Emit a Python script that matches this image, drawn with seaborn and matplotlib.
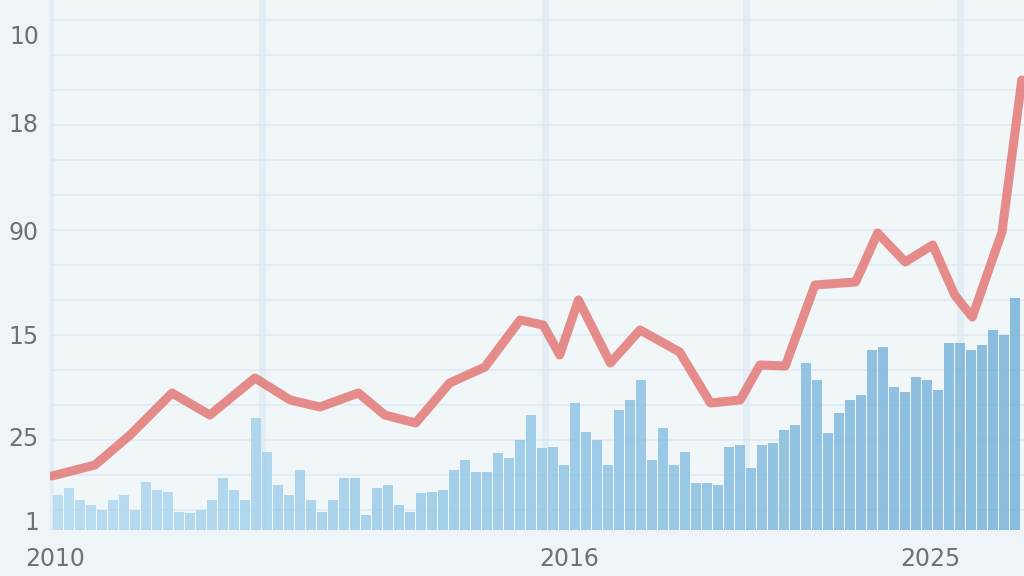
import numpy as np
import matplotlib
matplotlib.use('Agg')
import matplotlib.pyplot as plt
import seaborn as sns

# Bar heights (one bar per period)
BAR_VALUES = [35, 42, 30, 25, 20, 30, 35, 20, 48, 40, 38, 18, 17, 20, 30, 52,
              40, 30, 112, 78, 45, 35, 60, 30, 18, 30, 52, 52, 15, 42, 45, 25,
              18, 37, 38, 40, 60, 70, 58, 58, 77, 72, 90, 115, 82, 83, 65, 127,
              98, 90, 65, 120, 130, 150, 70, 102, 65, 78, 47, 47, 45, 83, 85, 62,
              85, 87, 100, 105, 167, 150, 97, 117, 130, 135, 180, 183, 143, 138,
              153, 150, 140, 187, 187, 180, 185, 200, 195, 232]

# Red trend line (period, value)
LINE_X = [-0.55, 3.36, 6.55, 10.36, 13.8, 17.9, 21.1, 23.8, 27.3, 29.7, 32.5,
          35.6, 38.8, 42.0, 44.1, 45.6, 47.3, 50.2, 52.9, 56.5, 59.3, 62.0,
          63.8, 66.1, 68.8, 72.5, 74.5, 77.0, 79.5, 81.5, 83.1, 85.8, 87.6]
LINE_Y = [54, 65, 95, 137, 115, 152, 130, 123, 137, 115, 107,
          147, 163, 210, 205, 175, 230, 167, 200, 178, 127, 130,
          165, 164, 245, 248, 297, 268, 285, 235, 213, 298, 450]

Y_TICKS = [495, 408, 300, 195, 93, 10]
Y_LABELS = ['10', '18', '90', '15', '25', '1']
X_TICKS = [-0.3, 46.5, 79.3]
X_LABELS = ['2010', '2016', '2025']
BANDS = [-0.7, 18.5, 44.3, 62.5, 82.0]

sns.set_style('white')
plt.rcParams['font.family'] = ['DejaVu Sans']

fig = plt.figure(figsize=(10.24, 5.76), dpi=100)
fig.patch.set_facecolor('#eef4f8')
ax = fig.add_axes([50 / 1024, 46 / 576, 974 / 1024, 530 / 576])
ax.set_facecolor('#f1f6f9')

# faint grid
for y in np.arange(20, 530, 35):
    ax.axhline(y, color='#e0eaf1', lw=1.2, zorder=0)
for x in BANDS:
    ax.axvline(x, color='#dae8f2', lw=5, alpha=0.6, zorder=0)

idx = np.arange(len(BAR_VALUES))
sns.barplot(x=idx, y=BAR_VALUES, native_scale=True, width=0.9,
            color='#8cc3e3', ax=ax, zorder=2)
cols = sns.blend_palette(['#b0d9f0', '#92c6e5', '#78b2da'], len(BAR_VALUES))
for patch, c in zip(ax.patches, cols):
    patch.set_facecolor(c)
    patch.set_edgecolor('none')
    patch.set_alpha(0.85)

sns.lineplot(x=LINE_X, y=LINE_Y, color='#e2716f', lw=6.5, alpha=0.8,
             ax=ax, zorder=3, sort=False)
for line in ax.lines:
    line.set_solid_capstyle('round')
    line.set_solid_joinstyle('round')

ax.set_xlim(-0.73, 87.8)
ax.set_ylim(0, 530)
ax.set_yticks(Y_TICKS)
ax.set_yticklabels(Y_LABELS)
ax.set_xticks(X_TICKS)
ax.set_xticklabels(X_LABELS)
ax.tick_params(axis='y', length=0, pad=8, labelsize=17, labelcolor='#707070')
ax.tick_params(axis='x', length=0, pad=12, labelsize=17, labelcolor='#707070')
for s in ax.spines.values():
    s.set_visible(False)
ax.set_xlabel('')
ax.set_ylabel('')

fig.savefig('out.png', dpi=100, facecolor=fig.get_facecolor())
